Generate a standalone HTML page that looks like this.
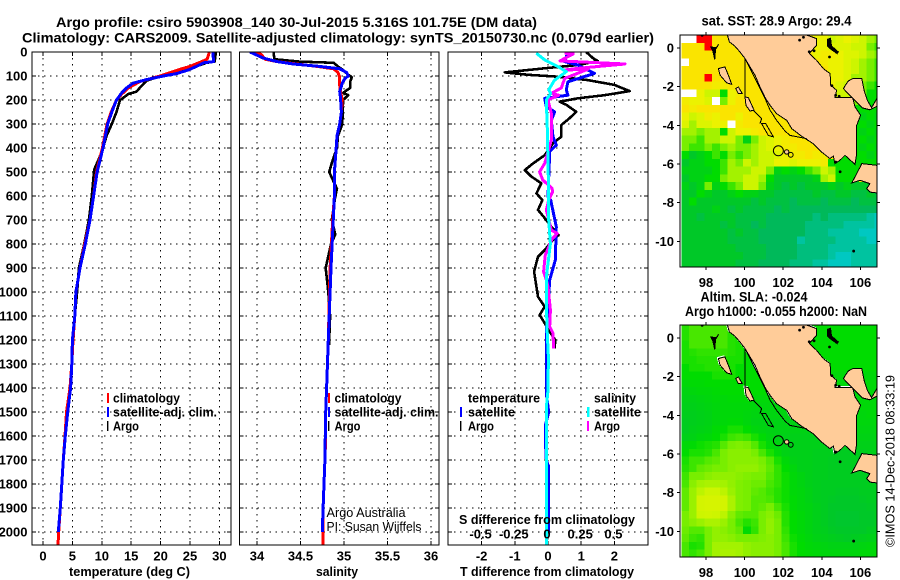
<!DOCTYPE html>
<html lang="en">
<head>
<meta charset="utf-8">
<title>Argo profile csiro 5903908_140</title>
<style>
html,body{margin:0;padding:0;background:#fff;width:900px;height:580px;overflow:hidden}
svg{display:block}
text{font-family:"Liberation Sans",sans-serif;fill:#000}
.b{font-weight:bold;font-size:13px}
.t{font-weight:bold;font-size:14px}
.n{font-size:13px}
</style>
</head>
<body>
<svg id="chart" xmlns="http://www.w3.org/2000/svg" width="900" height="580" viewBox="0 0 900 580">
<rect x="0" y="0" width="900" height="580" fill="#fff"/>
<g id="plots"></g>
<text class="t" x="56" y="27" textLength="481" lengthAdjust="spacingAndGlyphs">Argo profile: csiro 5903908_140 30-Jul-2015 5.316S 101.75E (DM data)</text>
<text class="t" x="22" y="42.5" textLength="632" lengthAdjust="spacingAndGlyphs">Climatology: CARS2009. Satellite-adjusted climatology: synTS_20150730.nc (0.079d earlier)</text>

<text class="b" x="69" y="576" textLength="121" lengthAdjust="spacingAndGlyphs">temperature (deg C)</text>
<text class="b" x="316" y="576" textLength="42" lengthAdjust="spacingAndGlyphs">salinity</text>
<text class="b" x="460" y="576" textLength="174" lengthAdjust="spacingAndGlyphs">T difference from climatology</text>

<g>
<rect x="107" y="393" width="2" height="10" fill="#f00"/>
<rect x="107" y="407" width="2" height="10" fill="#00f"/>
<rect x="107" y="421" width="1.4" height="10" fill="#000"/>
<text class="b" x="113" y="402.5" textLength="67" lengthAdjust="spacingAndGlyphs">climatology</text>
<text class="b" x="113" y="416.5" textLength="104" lengthAdjust="spacingAndGlyphs">satellite-adj. clim.</text>
<text class="b" x="113" y="430.5" textLength="26" lengthAdjust="spacingAndGlyphs">Argo</text>
</g>
<g>
<rect x="328" y="393" width="2" height="10" fill="#f00"/>
<rect x="328" y="407" width="2" height="10" fill="#00f"/>
<rect x="328" y="421" width="1.4" height="10" fill="#000"/>
<text class="b" x="334.5" y="402.5" textLength="67" lengthAdjust="spacingAndGlyphs">climatology</text>
<text class="b" x="334.5" y="416.5" textLength="104" lengthAdjust="spacingAndGlyphs">satellite-adj. clim.</text>
<text class="b" x="334.5" y="430.5" textLength="26" lengthAdjust="spacingAndGlyphs">Argo</text>
<text class="n" x="326.5" y="517" textLength="79" lengthAdjust="spacingAndGlyphs">Argo Australia</text>
<text class="n" x="326.5" y="531" textLength="95" lengthAdjust="spacingAndGlyphs">PI: Susan Wijffels</text>
</g>
<g>
<text class="b" x="468" y="402.5" textLength="72" lengthAdjust="spacingAndGlyphs">temperature</text>
<text class="b" x="468" y="416.5" textLength="47" lengthAdjust="spacingAndGlyphs">satellite</text>
<text class="b" x="468" y="430.5" textLength="26" lengthAdjust="spacingAndGlyphs">Argo</text>
<text class="b" x="594" y="402.5" textLength="42" lengthAdjust="spacingAndGlyphs">salinity</text>
<text class="b" x="594" y="416.5" textLength="47" lengthAdjust="spacingAndGlyphs">satellite</text>
<text class="b" x="594" y="430.5" textLength="26" lengthAdjust="spacingAndGlyphs">Argo</text>
<rect x="460" y="407" width="2" height="10" fill="#00f"/>
<rect x="460" y="421" width="1.4" height="10" fill="#000"/>
<rect x="587" y="407" width="2.5" height="10" fill="#0ff"/>
<rect x="587" y="421" width="2" height="10" fill="#f0f"/>
<text class="b" x="459" y="524" textLength="176" lengthAdjust="spacingAndGlyphs">S difference from climatology</text>
</g>

<text class="t" x="701.5" y="25.5" textLength="150" lengthAdjust="spacingAndGlyphs">sat. SST: 28.9 Argo: 29.4</text>
<text class="t" x="700.5" y="301.5" textLength="107" lengthAdjust="spacingAndGlyphs">Altim. SLA: -0.024</text>
<text class="t" x="685" y="316" textLength="182" lengthAdjust="spacingAndGlyphs">Argo h1000: -0.055 h2000: NaN</text>
<text class="n" transform="translate(894.5 547) rotate(-90)" x="0" y="0" textLength="172" lengthAdjust="spacingAndGlyphs">©IMOS 14-Dec-2018 08:33:19</text>
</svg>

<script>
// ---- axis tick labels ----
const depthTicks = [0,100,200,300,400,500,600,700,800,900,1000,1100,1200,1300,1400,1500,1600,1700,1800,1900,2000];
const tempTicks = [0,5,10,15,20,25,30];
const salTicks = [34,34.5,35,35.5,36];
const salTickLabels = ['34','34.5','35','35.5','36'];
const dtTicks = [-2,-1,0,1,2];
const dsTicks = [-0.5,-0.25,0,0.25,0.5];
const dsTickLabels = ['-0.5','-0.25','0','0.25','0.5'];
const lonTicks = [98,100,102,104,106];
const latTicks = [0,-2,-4,-6,-8,-10];

// ---- temperature profiles ----
const tClimDepth = [0,30,40,60,70,100,123,150,175,200,250,300,400,440,500,600,700,800,900,1000,1100,1200,1300,1400,1500,1600,1700,1800,1900,2000,2054];
const tClimVal = [28.3,27.9,27,25,23.6,19.9,16.5,14.5,13.4,12.5,11.6,10.9,10.1,9.7,9.1,8.6,8.0,7.1,6.3,5.6,5.4,5.1,4.9,4.6,4.0,3.75,3.45,3.2,2.95,2.67,2.55];
const tSatDepth = [0,40,45,60,75,90,100,115,130,150,170,200,225,250,300,400,500,600,700,800,900,1000,1100,1200,1300,1400,1500,1600,1700,1800,1900,2000];
const tSatVal = [28.9,29,27.3,26.1,24.7,22.7,20.5,17.6,15.3,14.2,13.4,12.5,12.1,11.7,11,10.2,9.2,8.6,8.0,7.2,6.3,5.6,5.4,5.0,4.9,4.7,4.2,3.8,3.45,3.2,2.95,2.6];
const tArgoDepth = [0,40,45,60,75,85,100,120,140,165,175,190,200,250,300,350,400,440,490,600,700,800,900,1000,1100,1220];
const tArgoVal = [29.4,29.2,27.8,26,23.9,21.6,19.9,17.6,16.8,15.9,14.5,13.7,13.1,12.5,11.7,10.8,10.2,9.6,8.7,8.3,7.8,7,6.1,5.8,5.4,5.1];

// ---- salinity profiles ----
const sClimDepth = [0,10,25,30,40,50,60,70,85,105,140,165,200,250,300,350,400,500,600,700,900,1200,1400,1500,1600,1700,1800,1900,2000,2054];
const sClimVal = [33.94,34.05,34.08,34.09,34.23,34.46,34.69,34.88,34.93,34.95,34.95,34.96,34.98,34.97,34.95,34.92,34.91,34.89,34.89,34.87,34.84,34.82,34.80,34.79,34.79,34.78,34.77,34.76,34.76,34.76];
const sSatDepth = [0,10,25,40,50,60,70,85,100,110,130,165,190,250,300,350,400,500,600,900,1200,1400,1500,1700,1800,1900,2000];
const sSatVal = [33.92,33.98,34.07,34.23,34.42,34.72,34.95,35.03,35.05,35.01,34.98,34.95,34.96,34.97,34.95,34.92,34.91,34.89,34.89,34.85,34.82,34.80,34.79,34.78,34.77,34.76,34.75];
const sArgoDepth = [0,30,40,45,60,75,95,105,125,150,170,180,200,300,350,400,450,500,540,570,600,700,760,800,900,1000,1100,1200,1220];
const sArgoVal = [34.19,34.2,34.49,34.88,34.93,34.99,35.05,35.09,35.07,35.07,34.99,35.05,34.99,34.98,34.93,34.92,34.87,34.83,34.88,34.92,34.9,34.86,34.9,34.85,34.79,34.82,34.84,34.83,34.83];

// ---- difference profiles ----
const dtArgoDepth = [0,25,38,54,68,85,95,103,117,137,163,180,193,207,220,249,276,304,353,380,430,464,492,519,547,589,617,658,700,728,763,783,825,853,915,950,1020,1061,1096,1130,1165,1200,1235];
const dtArgoVal = [1.15,1.35,1.5,0.9,-0.1,-1.3,-0.6,0.3,1.2,2.0,2.46,1.7,0.9,0.35,0.55,0.85,0.65,0.4,0.4,0.15,-0.1,-0.45,-0.7,-0.5,-0.2,-0.35,-0.17,-0.3,-0.05,0.1,0.32,0.15,-0.1,-0.3,-0.42,-0.38,-0.3,-0.1,-0.25,-0.1,0.05,0.22,0.2];
const dtSatDepth = [0,40,54,89,124,158,180,193,228,249,285,353,388,415,603,617,728,867,950,1170,1367,1422,1500,1550,1603,1650,1700,1728,2000];
const dtSatVal = [0.6,0.5,0.9,1.4,0.6,0.55,0.6,-0.1,-0.05,0.2,0.1,0.15,0.25,0.05,0,0.08,0.25,0.22,0.05,-0.05,-0.05,-0.05,0.02,-0.07,-0.08,-0.07,-0.05,0.02,0.02];
const dsArgoDepth = [5,8,37,50,68,75,72,110,150,172,180,200,255,367,464,499,533,568,582,617,658,742,756,780,846,915,950,978,1075,1144,1172,1235];
const dsArgoVal = [0.126,0.19,0.09,0.58,0.23,0.126,0.3,0.126,0.1,0.025,0.08,0,0.025,0.025,-0.025,-0.063,-0.04,0.03,0.035,0.005,-0.013,0.025,0.07,0.03,-0.02,-0.033,-0.013,0,0.018,0.013,0.038,0.043];
const dsSatDepth = [5,33,61,82,117,158,172,200,320,603,700,800,880,940,1050,1175,1270,1410,1465,1990,2054];
const dsSatVal = [-0.088,-0.025,0.075,0.138,0.05,0.005,0.02,-0.013,-0.005,0.005,0.005,0.018,0,-0.013,-0.013,-0.005,0.003,0,-0.01,-0.01,-0.01];

// ---- map fields: colour-level values, one row per 0.4 deg latitude (-1 = no data) ----
const sstLevels = [
[-1,-1,9,9,8,8,8,8,8,8,8,8,8,8,8,8,8,7,7,6,6.5,7,6.5,6,5.5,5],
[8,8,8,9,8,8,8,8,8,8,8,8,8,8,8,8,8,7,7,6.5,6.5,6.5,6,6,5,4.5],
[8,8,8,8,8,8,8,8,8,8,8,8,8,8,8,8,8,7,7.5,7.5,7,6.5,6.5,6,5.5,5],
[-1,8,8,8,8,8,8,8,8,8,8,8,8,8,8,8,8,8,7.5,7,7,6.5,6,5.5,5,4.5],
[8,8,8,8,8,8,8,8,8,8,8,8,8,8,8,8,8,8,8,7,7,6.5,6,5.5,5,4.5],
[8,8,8,9,8,8,8,8,8,8,8,8,8,8,8,8,8,8,7,7,7,6.5,5.5,5.5,5,4.5],
[8,8,8,8,7.5,7.5,8,8,8,8,8,8,8,8,8,8,8,8,8,7,6.5,6,5,5,4.5,4],
[-1,-1,7,6,6,4,7,7.5,8,8,8,8,8,8,8,8,8,8,8,7,6,6,5,5,4,4],
[7.5,7,7,6.5,-1,5,7,8,8,8,8,8,8,8,8,8,8,8,8,8,8,5,5,5,4,4],
[8,7.5,8,8,8,8,8,8,8,8,8,8,8,8,8,8,8,8,8,8,8,8,4,4,4,4],
[7,6,6.5,7.5,7,8,8,7,8,8,8,8,8,8,8,8,8,8,8,8,8,8,4,3.5,4,3.5],
[6.5,5.5,6.5,6.5,7,7,-1,7.5,8,8,8,8,8,8,8,8,8,8,8,8,8,8,4,4,3.5,4],
[5.5,5.5,5,5.5,5.5,4,6,7,7,7.5,8,8,8,8,8,8,8,8,8,8,8,8,4,3.5,4,3.5],
[5,5,4.5,5.5,5.5,6,6,5,3.5,5,6,6.5,7,7.5,8,8,8,8,8,8,8,8,4,4,3.5,4],
[5,4.5,4.5,5,4.5,5,5.5,5,5,5.5,6,6.5,7,7.5,7.5,8,8,8,8,8,8,8,4,3.5,4,3.5],
[4,3,3.5,4,4.5,4,5,4.5,5,5.5,6,6,6.5,7,7.5,7.5,8,7.5,7.5,8,4,4,4,4,3.5,4],
[3,3.5,3.5,4,4,4.5,5.5,5,6,5.5,6,6,7,7,6.5,7,7,7,7.5,4,4,4,4,4,4,4],
[3.5,3.5,3.5,3.5,4,4.5,5.5,5.5,5.5,6,6,5,3.5,4,3.5,4,4.5,5,6,5.5,4,4,4,8,8,8],
[3,3.5,3.5,4,4,5,5.5,5.5,6,6,5.5,4,3,3,3,3,3,3.5,5.5,6,4,4,4,8,8,8],
[3.5,3,3.5,5,3.5,4,4.5,5,6,6,5,3.5,3,2.5,3,2.5,3,3,3,3.5,3,3.5,3,3,3,3],
[3,3,4,3.5,3,3,3.5,4,3.5,3.5,3,3,2.5,2.5,2.5,2.5,2.5,3,2.5,2.5,3,3,2.5,2.5,3,2.5],
[3,4,3,3,3,3,3,3,3,2.5,3,2.5,2.5,2.5,2,2.5,2.5,2.5,2,2.5,2.5,2.5,2,2.5,2.5,2.5],
[3,3,3,3,3.5,3,2.5,3,2.5,2.5,2.5,2.5,2,2.5,2,2,2,2,2,2,2,2,2,2,2,2],
[3,3,2.5,3,3,3,3,2.5,2.5,2.5,2.5,2,2,2,2,2,2,1.5,2,1.5,1.5,1.5,1.5,1.5,1,0.5],
[3,3,3,3,3,2.5,3,2.5,2.5,2,2.5,2,2,2,2,2,1.5,1.5,1.5,1.5,1.5,1,1,1,1,0.5],
[3,3,3,3,3,3,2.5,3,2.5,2.5,2,2,2,2,2,2,1.5,1.5,1.5,1,1,1,1,0.5,0.5,0.5],
[3,3,3,3,3,3,2.5,2.5,2.5,2.5,2,2,2,2,2,1,1.5,1.5,1.5,1.5,1,1,1,1,0.5,0.5],
[3,3,3,3,3,3,3,2.5,2.5,2.5,2.5,2,2,2,2,1.5,1.5,1.5,1.5,1,1,1,1,1,1,1],
[3,3,3,3,3,3,3,3,2.5,2.5,2.5,2,2,2,2,1.5,1.5,1.5,1.5,1,0.5,0.5,1,1,1,1],
[3,3,3,3,3,3,3,2.5,2.5,2.5,2,2,2,2,1.5,1.5,1.5,1,1,0.5,0.5,0.5,1,1,1,1]
];
const slaLevels = [
[4.3,4.6,4.6,4.6,4.6,4.6,4.3,4.2,4,4,4,4,4,4,4,4,4,4,4,4,4,4,4,4,4,4],
[4.3,4.6,4.6,4.6,4.6,4.6,4.3,4.2,4,4,4,4,4,4,4,4,4,4,4,4,4,4,4,4,4,4],
[4.2,4.6,4.6,4.6,4.6,4.6,4.3,4.2,4,4,4,4,4,4,4,4,4,4,4,4,4,4,4,4,4,4],
[4.2,4.3,4.4,4.4,4.4,4.4,4.3,4.2,4,4,4,4,4,4,4,4,4,4,4,4,4,4,4,4,4,4],
[4.2,4.2,4.3,4.3,4.3,4.3,4.2,4.2,4,4,4,4,4,4,4,4,4,4,4,4,4,4,4,4,4,4],
[4,4.2,4.2,4.3,4.3,4.3,4.2,4,4,4,4,4,4,4,4,4,4,4,4,4,4,4,4,4,4,4],
[4,4,4,4,4.2,4.2,4.2,4,4,4,4,4,4,4,4,4,4,4,3.8,3.8,3.8,3.8,3.8,3.8,3.8,3.8],
[3.8,3.9,3.9,4,4,4,4,4,4,4,4,4,4,4,4,4,4,4,3.8,3.8,3.8,3.8,3.8,3.8,3.8,3.8],
[3.6,3.7,3.8,3.8,3.9,4,4,4,4,4,4,4,3.9,3.9,3.9,3.9,3.9,3.9,3.8,3.8,3.8,3.8,3.8,3.8,3.8,3.8],
[3.5,3.5,3.6,3.7,3.8,3.8,3.9,3.9,3.9,3.8,3.8,3.8,3.8,3.8,3.8,3.8,3.8,3.8,3.8,3.8,3.8,3.8,3.8,3.8,3.8,3.8],
[3.4,3.4,3.5,3.6,3.7,3.8,3.8,3.8,3.8,3.7,3.7,3.7,3.7,3.7,3.7,3.7,3.7,3.7,3.7,3.7,3.7,3.7,3.8,3.8,3.8,3.8],
[3.3,3.3,3.4,3.5,3.7,3.8,3.8,3.8,3.7,3.6,3.6,3.6,3.6,3.6,3.6,3.6,3.6,3.6,3.6,3.6,3.6,3.6,3.7,3.7,3.8,3.8],
[3.2,3.3,3.4,3.5,3.7,3.8,3.9,3.9,3.7,3.5,3.5,3.5,3.5,3.5,3.5,3.5,3.5,3.5,3.5,3.5,3.5,3.6,3.6,3.7,3.7,3.8],
[3.2,3.4,3.5,3.6,3.9,4,4.2,4.2,4,3.7,3.6,3.5,3.5,3.5,3.5,3.5,3.5,3.5,3.5,3.5,3.5,3.5,3.5,3.6,3.6,3.7],
[3.4,3.5,3.7,3.8,4,4.2,4.5,4.6,4.5,4.2,3.9,3.6,3.5,3.4,3.4,3.4,3.4,3.4,3.4,3.4,3.4,3.4,3.4,3.5,3.5,3.6],
[3.8,3.9,4.1,4.2,4.3,4.7,5,5.1,5,4.7,4.2,3.8,3.6,3.5,3.4,3.4,3.4,3.4,3.4,3.3,3.3,3.3,3.3,3.4,3.4,3.5],
[4,4.2,4.2,4.3,4.6,5,5.2,5.2,5.2,5,4.6,4.2,3.8,3.5,3.4,3.4,3.4,3.3,3.3,3.3,3.2,3.2,3.3,3.3,3.4,3.4],
[4.2,4.5,4.5,4.7,4.8,5,5.2,5.2,5.2,5.2,5,4.7,4.2,3.8,3.5,3.4,3.4,3.3,3.3,3.2,3.2,3.2,3.3,3.3,3.4,3.4],
[4.3,4.5,4.8,4.9,5,5,5.2,5.3,5.3,5.3,5.1,4.8,4.4,4,3.7,3.4,3.4,3.3,3.3,3.2,3.2,3.2,3.2,3.3,3.3,3.4],
[4.5,5,5,5.2,5.3,5.3,5.3,5.2,5.1,5,5,4.7,4.4,4.1,3.8,3.6,3.4,3.3,3.3,3.2,3.2,3.2,3.2,3.2,3.3,3.3],
[4.6,5.2,5.5,5.6,5.6,5.5,5.3,5.1,5,4.9,4.9,4.6,4.4,4.1,3.8,3.6,3.4,3.3,3.2,3.2,3.2,3.2,3.2,3.2,3.3,3.3],
[4.8,5.4,5.8,6,6,5.8,5.4,5.1,5,4.8,4.7,4.5,4.3,4.1,3.8,3.7,3.5,3.3,3.2,3.2,3.1,3.1,3.1,3.2,3.2,3.3],
[4.8,5.4,6.2,6.3,6.3,6.2,5.6,5.1,5,4.7,4.7,4.6,4.3,4.1,3.9,3.7,3.5,3.3,3.2,3.1,3,3,3,3.1,3.2,3.2],
[4.8,5.4,6.2,6.3,6.3,6.2,5.6,5.1,5,4.7,4.8,5,4.6,4.2,3.9,3.7,3.6,3.4,3.2,3,3,3,3,3,3.1,3.2],
[5,5.4,6,6.1,6,5.8,5.2,4.8,4.7,4.7,5,5.2,4.9,4.3,4,3.8,3.6,3.4,3.2,3,2.9,2.9,2.9,3,3,3.2],
[5,5.2,5.4,5.6,5.6,5.4,5,4.6,4.3,4.5,5,5.3,5,4.3,4,3.8,3.6,3.4,3.2,3,2.9,2.9,2.9,3,3,3.2],
[4.9,4.7,4.7,5,5.3,5.2,5,4.8,3.9,4.4,5,5.3,5,4.4,4,3.8,3.6,3.4,3.3,3.1,3,3,3,3,3.2,3.3],
[4.8,4.5,4.4,5,5.3,5.3,5.2,5,5,5,5.1,5.2,5,4.5,4.1,3.9,3.7,3.5,3.4,3.3,3.2,3.1,3.2,3.3,3.4,3.5],
[4.6,4.2,4.3,5,5.5,5.5,5.5,5.5,5.3,5.2,5.2,5.2,5,4.6,4.2,4,3.8,3.7,3.6,3.5,3.5,3.5,3.5,3.6,3.7,3.8],
[4.6,4.4,4.6,5,5.5,5.6,5.6,5.5,5.3,5.2,5.2,5.2,5,4.6,4.2,4,3.9,3.8,3.7,3.7,3.7,3.7,3.7,3.8,3.8,3.9]
];

// ---- coast geometry in lon/lat ----
const mainlandLon = [99.11,99.21,99.50,99.76,100.02,100.28,100.54,100.80,101.06,101.32,101.66,102.18,102.44,102.96,103.56,103.99,104.42,104.60,104.68,104.94,105.20,105.72,105.81,105.81,106.01,105.72,105.60,104.68,104.77,104.46,104.43,104.08,103.73,103.35,103.73,103.73,103.22];
const mainlandLat = [0.66,0.31,0.09,-0.21,-0.55,-0.98,-1.41,-2.02,-2.57,-2.97,-3.40,-3.74,-4.17,-4.57,-4.95,-5.38,-5.72,-5.59,-5.98,-5.81,-5.55,-6.02,-5.47,-4.00,-3.48,-3.05,-2.57,-2.57,-2.19,-1.93,-1.33,-1.07,-0.64,-0.29,0.14,0.48,0.66];
const peninsulaLon = [105.12,105.37,105.60,106.07,106.19,106.36,106.58,106.88,106.88,106.5,106.1,105.7,105.3];
const peninsulaLat = [-2.10,-1.71,-1.59,-1.59,-2.19,-2.71,-3.09,-2.57,-3.0,-3.2,-3.1,-2.7,-2.3];
const javaLon = [105.81,106.07,106.88,106.88,106.5,106.32,106.5,105.98,105.55];
const javaLat = [-6.5,-5.98,-6.07,-7.5,-7.45,-7.28,-7.02,-6.84,-6.98];
const simeulueLon = [98.64,98.98,99.16,99.33,99.07,98.73];
const simeulueLat = [-1.07,-0.98,-1.41,-1.88,-1.81,-1.41];
const sipuraLon = [99.54,99.68,99.88,99.68];
const sipuraLat = [-2.10,-2.02,-2.36,-2.36];
const pagaiLon = [100.02,100.19,100.49,100.28,100.07];
const pagaiLat = [-2.53,-2.57,-3.22,-3.26,-2.97];
const enggLon = [100.88,101.10,101.49,101.23];
const enggLat = [-3.91,-3.91,-4.60,-4.52];
const shelfLon = [100.02,100.02,100.02,100.28,100.71,101.06,101.32,101.66,102.09,102.35,103.22];
const shelfLat = [-2.53,-0.55,-0.55,-1.07,-1.93,-2.62,-3.22,-3.74,-4.29,-4.52,-4.69];
const shelf2Lon = [100.45,100.88,100.80];
const shelf2Lat = [-3.22,-3.66,-3.91];
const riauLon = [104.3,104.45,104.5,104.85,104.8,104.45,104.3];
const riauLat = [0.45,0.5,0.1,-0.2,-0.3,-0.05,0.1];
const batuLon = [98.25,98.55,98.65,98.5,98.45,98.35];
const batuLat = [0.05,0,0.18,-0.05,-0.6,-0.15];
const dotLon = [102.85,103.05,103.35,103.6,104.4,104.52,104.72,104.9,105.65,97.8,104.72,104.95];
const dotLat = [0.4,0.55,-0.2,-0.15,-0.47,-1.95,-2.45,-2.5,-10.5,0.65,-5.9,-6.4];
const argoLon = [101.75];
const argoLat = [-5.316];

// ---- colour palette for map levels ----
const mapPalette = [[0,205,225],[0,195,160],[0,185,90],[0,200,40],[0,220,0],[120,238,0],[205,245,0],[236,242,0],[250,228,0],[255,0,0]];

const SVGNS = 'http://www.w3.org/2000/svg';
const root = document.getElementById('plots');
function make(tag, parent){
  const e = document.createElementNS(SVGNS, tag);
  parent.appendChild(e);
  return e;
}
function set(e, attrs){ for (const k in attrs) e.setAttribute(k, attrs[k]); return e; }

function depthY(d){ return 52 + d * 0.24; }
const tempX = v => 43 + v * 5.88;
const salX = v => 257 + (v - 34) * 87;
const dtX = v => 548 + v * 33.2;
const dsX = v => 548 + v * 132.8;
const PANEL_TOP = 52, PANEL_BOTTOM = 545;

function linePts(xf, vals, depths){
  return vals.map((v, i) => xf(v).toFixed(1) + ',' + depthY(depths[i]).toFixed(1)).join(' ');
}

function drawPanel(id, x0, x1, xf, ticks, labels){
  const g = make('g', root);
  
  
  const cp = make('clipPath', g);
  cp.setAttribute('id', 'clip-' + id);
  set(make('rect', cp), {x:x0, y:PANEL_TOP, width:x1 - x0, height:PANEL_BOTTOM - PANEL_TOP});
  const gridDots = {stroke:'#000', 'stroke-width':1, 'stroke-dasharray':'1.5 4.5', 'shape-rendering':'crispEdges'};
  depthTicks.forEach(d => {
    if (d === 0) return;
    const l = make('line', g);
    
    
    set(l, {x1:x0, x2:x1, y1:depthY(d), y2:depthY(d)});
    set(l, gridDots);
    [[x0, x0 + 4], [x1 - 4, x1]].forEach(p => {
      const t = make('line', g);
      
      
      set(t, {x1:p[0], x2:p[1], y1:depthY(d), y2:depthY(d), stroke:'#000', 'stroke-width':1, 'shape-rendering':'crispEdges'});
    });
  });
  ticks.forEach((v, i) => {
    const X = xf(v);
    const l = make('line', g);
    
    
    set(l, {x1:X, x2:X, y1:PANEL_TOP, y2:PANEL_BOTTOM});
    set(l, gridDots);
    [[PANEL_BOTTOM - 4, PANEL_BOTTOM], [PANEL_TOP, PANEL_TOP + 4]].forEach(p => {
      const t = make('line', g);
      
      
      set(t, {x1:X, x2:X, y1:p[0], y2:p[1], stroke:'#000', 'stroke-width':1, 'shape-rendering':'crispEdges'});
    });
    const tx = make('text', g);
    
    
    set(tx, {x:X, y:560.5, 'text-anchor':'middle', class:'b'});
    tx.textContent = labels[i];
  });
  return {g, close(){
    const b = make('rect', g);
    
    
    set(b, {x:x0, y:PANEL_TOP, width:x1 - x0, height:PANEL_BOTTOM - PANEL_TOP, fill:'none', stroke:'#000', 'stroke-width':1.2, 'shape-rendering':'crispEdges'});
  }};
}

function drawSeries(p, id, name, xf, vals, depths, color, w){
  const l = make('polyline', p.g);
  
  
  set(l, {points:linePts(xf, vals, depths), fill:'none', stroke:color, 'stroke-width':w, 'clip-path':'url(#clip-' + id + ')', 'stroke-linejoin':'round', 'shape-rendering':'crispEdges'});
}

// depth labels
depthTicks.forEach(d => {
  const t = make('text', root);
  
  
  set(t, {x:27.5, y:depthY(d) + 4.5, 'text-anchor':'end', class:'b'});
  t.textContent = d;
});

// temperature panel
const p1 = drawPanel('temperature', 32, 231, tempX, tempTicks, tempTicks.map(String));
drawSeries(p1, 'temperature', 'argo-temperature-line', tempX, tArgoVal, tArgoDepth, '#000', 2.6);
drawSeries(p1, 'temperature', 'climatology-temperature-line', tempX, tClimVal, tClimDepth, '#f00', 3);
drawSeries(p1, 'temperature', 'satellite-temperature-line', tempX, tSatVal, tSatDepth, '#00f', 3);
p1.close();

// salinity panel
const p2 = drawPanel('salinity', 239.5, 439, salX, salTicks, salTickLabels);
drawSeries(p2, 'salinity', 'argo-salinity-line', salX, sArgoVal, sArgoDepth, '#000', 2.6);
drawSeries(p2, 'salinity', 'climatology-salinity-line', salX, sClimVal, sClimDepth, '#f00', 3);
drawSeries(p2, 'salinity', 'satellite-salinity-line', salX, sSatVal, sSatDepth, '#00f', 3);
p2.close();

// difference panel
const p3 = drawPanel('difference', 448, 648, dtX, dtTicks, dtTicks.map(String));
drawSeries(p3, 'difference', 'argo-t-difference-line', dtX, dtArgoVal, dtArgoDepth, '#000', 2.6);
drawSeries(p3, 'difference', 'satellite-t-difference-line', dtX, dtSatVal, dtSatDepth, '#00f', 3);
drawSeries(p3, 'difference', 'argo-s-difference-line', dsX, dsArgoVal, dsArgoDepth, '#f0f', 3);
drawSeries(p3, 'difference', 'satellite-s-difference-line', dsX, dsSatVal, dsSatDepth, '#0ff', 3);
dsTicks.forEach((v, i) => {
  const t = make('text', p3.g);
  
  
  set(t, {x:dsX(v) - 1, y:538.5, 'text-anchor':'middle', class:'b'});
  t.textContent = dsTickLabels[i];
});
p3.close();

// ---- maps ----
const lonX = v => 706 + (v - 98) * 19.3;
const LON0 = 96.72, LAT0 = 0.66, CELL = 0.4;

function levelColor(v){
  if (v < 0) return '#fff';
  const lo = Math.min(Math.floor(v), mapPalette.length - 1);
  const hi = Math.min(lo + 1, mapPalette.length - 1);
  const f = v - lo;
  const c = mapPalette[lo].map((a, i) => Math.round(a + (mapPalette[hi][i] - a) * f));
  return 'rgb(' + c.join(',') + ')';
}

function drawMap(id, y0, top, bottom, levels, whiteHalo){
  const latY = v => y0 - v * 19.35;
  const left = 680, right = 877;
  const g = make('g', root);
  
  
  const cp = make('clipPath', g);
  cp.setAttribute('id', 'clip-' + id);
  set(make('rect', cp), {x:left, y:top, width:right - left, height:bottom - top});
  const cells = make('g', g);
  
  
  cells.setAttribute('clip-path', 'url(#clip-' + id + ')');
  levels.forEach((row, r) => row.forEach((v, c) => {
    const x0 = lonX(LON0 + c * CELL), x1 = lonX(LON0 + (c + 1) * CELL);
    const y1 = latY(LAT0 - r * CELL), y2 = latY(LAT0 - (r + 1) * CELL);
    const cell = make('rect', cells);
    
    
    set(cell, {x:x0.toFixed(1), y:y1.toFixed(1), width:(x1 - x0 + 0.4).toFixed(1), height:(y2 - y1 + 0.4).toFixed(1), fill:levelColor(v), 'shape-rendering':'crispEdges'});
  }));

  const ptsOf = (lons, lats) => lons.map((v, i) => lonX(v).toFixed(1) + ',' + latY(lats[i]).toFixed(1)).join(' ');
  const clipRef = 'url(#clip-' + id + ')';
  function halo(name, lons, lats){
    const clipWrap = make('g', g);
    
    
    clipWrap.setAttribute('clip-path', clipRef);
    const e = make('polygon', clipWrap);
    
    
    set(e, {points:ptsOf(lons, lats), fill:'none', stroke:'#fff', 'stroke-width':1, transform:'translate(-1 -1)', 'shape-rendering':'crispEdges'});
  }
  function poly(name, lons, lats, fill, sw){
    const e = make('polygon', g);
    
    
    set(e, {points:ptsOf(lons, lats), fill:fill, stroke:'#000', 'stroke-width':sw, 'clip-path':clipRef, 'shape-rendering':'crispEdges'});
  }
  function path(name, lons, lats){
    const e = make('polyline', g);
    
    
    set(e, {points:ptsOf(lons, lats), fill:'none', stroke:'#000', 'stroke-width':1, 'clip-path':clipRef, 'shape-rendering':'crispEdges'});
  }
  const LAND = '#ffcc99';
  if (whiteHalo) {
    halo('mainland-halo', mainlandLon, mainlandLat);
    halo('simeulue-halo', simeulueLon, simeulueLat);
    halo('pagai-halo', pagaiLon, pagaiLat);
  }
  poly('mainland-sumatra', mainlandLon, mainlandLat, LAND, 1);
  poly('bangka-peninsula', peninsulaLon, peninsulaLat, LAND, 1);
  poly('java-land', javaLon, javaLat, LAND, 1);
  poly('simeulue-island', simeulueLon, simeulueLat, LAND, 1);
  poly('sipura-island', sipuraLon, sipuraLat, LAND, 1);
  poly('pagai-island', pagaiLon, pagaiLat, LAND, 1);
  poly('enggano-outline', enggLon, enggLat, 'none', 1);
  path('shelf-contour', shelfLon, shelfLat);
  path('shelf-contour-south', shelf2Lon, shelf2Lat);
  poly('riau-islands', riauLon, riauLat, '#000', 1);
  poly('batu-islands', batuLon, batuLat, '#000', 1);
  dotLon.forEach((v, i) => {
    const d = make('circle', g);
    
    
    set(d, {cx:lonX(v), cy:latY(dotLat[i]), r:1.4, fill:'#000', 'clip-path':clipRef});
  });
  argoLon.forEach((v, i) => {
    const c = make('circle', g);
    
    
    set(c, {cx:lonX(v), cy:latY(argoLat[i]), r:5, fill:'none', stroke:'#000', 'stroke-width':1});
    const c2 = make('circle', g);
    
    
    set(c2, {cx:lonX(v + 0.43), cy:latY(argoLat[i] - 0.06), r:2.2, fill:LAND, stroke:'#000', 'stroke-width':1});
    const c3 = make('circle', g);
    
    
    set(c3, {cx:lonX(v + 0.64), cy:latY(argoLat[i] - 0.21), r:2.4, fill:'none', stroke:'#000', 'stroke-width':1});
  });

  lonTicks.forEach(v => {
    [[top - 3, top], [bottom, bottom + 3]].forEach(p => {
      const t = make('line', g);
      
      
      set(t, {x1:lonX(v), x2:lonX(v), y1:p[0], y2:p[1], stroke:'#000', 'stroke-width':1, 'shape-rendering':'crispEdges'});
    });
    const tx = make('text', g);
    
    
    set(tx, {x:lonX(v), y:bottom + 20, 'text-anchor':'middle', class:'b'});
    tx.textContent = v;
  });
  latTicks.forEach(v => {
    [[left - 3, left], [right, right + 3]].forEach(p => {
      const t = make('line', g);
      
      
      set(t, {x1:p[0], x2:p[1], y1:latY(v), y2:latY(v), stroke:'#000', 'stroke-width':1, 'shape-rendering':'crispEdges'});
    });
    const tx = make('text', g);
    
    
    set(tx, {x:left - 6, y:latY(v) + 4.5, 'text-anchor':'end', class:'b'});
    tx.textContent = v;
  });
  const frame = make('rect', g);
  
  
  set(frame, {x:left, y:top, width:right - left, height:bottom - top, fill:'none', stroke:'#000', 'stroke-width':1.2, 'shape-rendering':'crispEdges'});
}

drawMap('sst', 47.9, 35, 267, sstLevels, false);
drawMap('sla', 337.9, 325, 557, slaLevels, true);
</script>
</body>
</html>
